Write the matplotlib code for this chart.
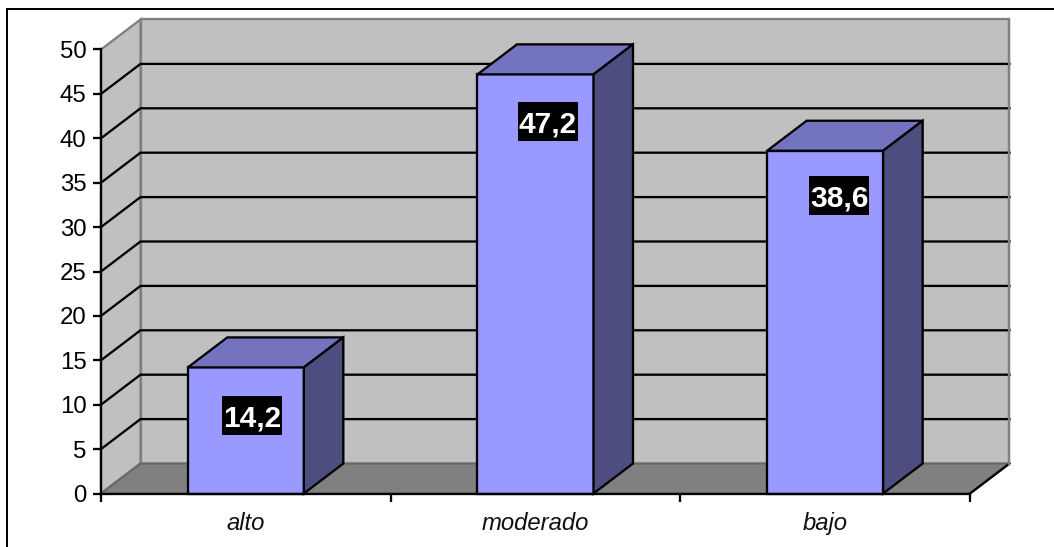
# Libraries
import matplotlib
matplotlib.use("Agg")
import matplotlib.pyplot as plt
from matplotlib.lines import Line2D
from matplotlib.patches import Polygon, Rectangle

plt.rcParams["font.family"] = ["Liberation Sans", "DejaVu Sans"]

# Data
categories = ["alto", "moderado", "bajo"]
values = [14.2, 47.2, 38.6]
labels = ["14,2", "47,2", "38,6"]
y_ticks = [0, 5, 10, 15, 20, 25, 30, 35, 40, 45, 50]

# Config
W, H = 1054, 547
LEFT, RIGHT, BOTTOM, TOP = 101, 970, 493.5, 49.5
Y_MAX = 50
PX_X = 3 / (RIGHT - LEFT)           # data units per pixel
PX_Y = Y_MAX / (BOTTOM - TOP)
DX = 39.5 * PX_X                    # depth of the box
DY = 30 * PX_Y
BAR_W = 116 * PX_X
LW = 1.65

# Value box placement relative to the bar's front top edge, in pixels
LABEL_SHIFT_X = [6, 12, 14]
LABEL_DROP_Y = [48.5, 47, 45]
BOX_W, BOX_H = 60, 39

fig = plt.figure(figsize=(W / 100, H / 100), dpi=100, facecolor="white")
ax = fig.add_axes([LEFT / W, 1 - BOTTOM / H, (RIGHT - LEFT) / W, (BOTTOM - TOP) / H])
ax.set_xlim(0, 3)
ax.set_ylim(0, Y_MAX)
for s in ax.spines.values():
    s.set_visible(False)
ax.patch.set_visible(False)


def poly(pts, fc, ec, lw=LW, z=1):
    ax.add_patch(Polygon(pts, closed=True, fc=fc, ec=ec, lw=lw, zorder=z,
                         clip_on=False, joinstyle="miter"))


# Walls and floor
poly([(DX, DY), (3 + DX, DY), (3 + DX, Y_MAX + DY), (DX, Y_MAX + DY)], "#c0c0c0", "#808080")
poly([(0, 0), (DX, DY), (DX, Y_MAX + DY), (0, Y_MAX)], "#c0c0c0", "#808080")
poly([(0, 0), (3, 0), (3 + DX, DY), (DX, DY)], "#808080", "#6a6a6a")
ax.plot([3, 3 + DX], [0, DY], color="black", lw=LW, zorder=2, clip_on=False)

# Gridlines along the side wall and back wall
for t in y_ticks[1:-1]:
    ax.plot([0, DX, 3 + DX], [t, t + DY, t + DY], color="black", lw=LW, zorder=2,
            clip_on=False, solid_joinstyle="miter")
ax.plot([3 + DX, 3 + DX], [DY, Y_MAX + DY], color="#808080", lw=LW, zorder=2.5, clip_on=False)

# Bars with their value boxes
for i, (v, lab) in enumerate(zip(values, labels)):
    x0 = i + 0.5 - BAR_W / 2
    x1 = i + 0.5 + BAR_W / 2
    poly([(x0, 0), (x1, 0), (x1, v), (x0, v)], "#9999ff", "black", z=3)
    poly([(x0, v), (x1, v), (x1 + DX, v + DY), (x0 + DX, v + DY)], "#7373bf", "black", z=3)
    poly([(x1, 0), (x1 + DX, DY), (x1 + DX, v + DY), (x1, v)], "#4d4d80", "black", z=3)

    cx = i + 0.5 + LABEL_SHIFT_X[i] * PX_X
    cy = v - LABEL_DROP_Y[i] * PX_Y
    ax.add_patch(Rectangle((cx - BOX_W / 2 * PX_X, cy - BOX_H / 2 * PX_Y),
                           BOX_W * PX_X, BOX_H * PX_Y, fc="black", ec="none", zorder=4))
    ax.text(cx, cy, lab, ha="center", va="center_baseline", color="white",
            fontsize=21.5, fontweight="bold", zorder=5)

# Axis lines and ticks
ax.set_xticks([0, 1, 2, 3])
ax.set_xticklabels([])
ax.set_xticks([0.5, 1.5, 2.5], categories, minor=True, fontsize=17.2, style="italic", color="#111111")
ax.tick_params(axis="x", which="major", length=6, width=LW, direction="out")
ax.tick_params(axis="x", which="minor", length=0, pad=13.5)
ax.set_yticks(y_ticks)
ax.tick_params(axis="y", length=6, width=LW, direction="out", labelsize=17.3, pad=4.5)
for side in ("left", "bottom"):
    ax.spines[side].set_visible(True)
    ax.spines[side].set_linewidth(LW)
    ax.spines[side].set_zorder(6)

# Frame lines on the left and top of the figure
fig.add_artist(Line2D([7 / W, 7 / W, 1], [0, 1 - 9 / H, 1 - 9 / H], color="black", lw=1.45,
                      solid_joinstyle="miter", transform=fig.transFigure))

fig.savefig("out.png", dpi=100)
